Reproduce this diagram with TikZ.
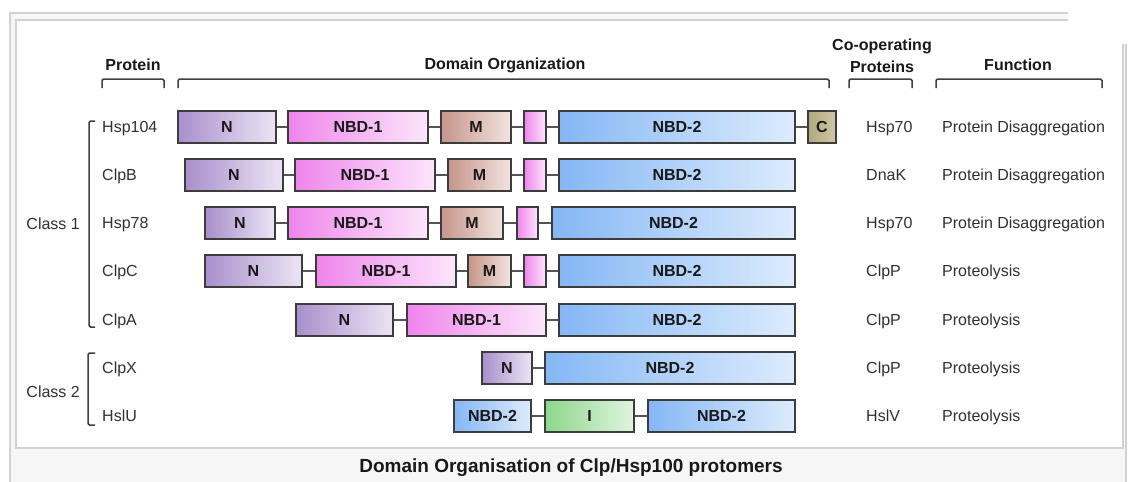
\documentclass[tikz,border=0pt]{standalone}
\usepackage{fontspec}
\setmainfont{Liberation Sans}

% domain colours (dark end, light end)
\definecolor{nA}{HTML}{A88FCB}
\definecolor{nB}{HTML}{ECE5F5}
\definecolor{aA}{HTML}{EF85EC}
\definecolor{aB}{HTML}{FCE6FB}
\definecolor{mA}{HTML}{C6958A}
\definecolor{mB}{HTML}{F2E4E0}
\definecolor{bA}{HTML}{85B7F5}
\definecolor{bB}{HTML}{DDECFD}
\definecolor{iA}{HTML}{8DD78D}
\definecolor{iB}{HTML}{E0F4E0}
\definecolor{cA}{HTML}{B3A87E}
\definecolor{cB}{HTML}{CFC7A6}
\definecolor{boxline}{HTML}{3C3C3C}
\definecolor{linkgray}{HTML}{555555}
\definecolor{textgray}{HTML}{303030}
\definecolor{framegray}{HTML}{D2D2D2}
\definecolor{panelback}{HTML}{F6F6F6}

\tikzset{
  dbox/.style={draw=boxline, line width=1.4pt, minimum height=32pt, inner sep=0pt,
    font=\fontsize{16}{18}\selectfont\bfseries, text=black!90, text height=11.5pt, text depth=0pt},
  ndom/.style={left color=nA, right color=nB},
  adom/.style={left color=aA, right color=aB},
  mdom/.style={left color=mA, right color=mB},
  bdom/.style={left color=bA, right color=bB},
  idom/.style={left color=iA, right color=iB},
  cdom/.style={left color=cA, right color=cB},
  link/.style={draw=linkgray, line width=1.6pt},
  txt/.style={font=\fontsize{16}{18}\selectfont, text=textgray, inner sep=0pt,
    text height=11.5pt, text depth=0pt, anchor=west},
  head/.style={font=\fontsize{16}{22}\selectfont\bfseries, text=black!90, inner sep=0pt},
  brk/.style={draw=black!75, line width=1.5pt, rounded corners=1.5pt},
}

% domain box: name, style, left x, right x, row y, label
\newcommand{\dom}[6]{\node[dbox,#2,minimum width={#4-#3}] (#1) at ({(#3+#4)/2},#5) {#6};}

\begin{document}
\begin{tikzpicture}[x=1pt, y=-1pt]
\useasboundingbox (0,0) rectangle (1133,482);

% frame and white panel
\draw[framegray, line width=1.5pt, fill=panelback] (10,13) rectangle (1126,500);
\draw[framegray, line width=1.5pt, fill=white] (16,20) rectangle (1123,448);
\fill[white] (1068,0) rectangle (1133,44);

% column headers
\node[head] (prothead) at (133,65) {Protein};
\node[head] (domhead) at (505,65) {Domain Organization};
\node[head, align=center] (coophead) at (882,56) {Co-operating\\Proteins};
\node[head] (funchead) at (1018,65) {Function};

\draw[brk] (102,88) -- (102,79) -- (164,79) -- (164,88);
\draw[brk] (178,88) -- (178,79) -- (829,79) -- (829,88);
\draw[brk] (849,88) -- (849,79) -- (912,79) -- (912,88);
\draw[brk] (936,88) -- (936,79) -- (1102,79) -- (1102,88);

% class brackets
\draw[brk] (95,121) -- (89,121) -- (89,327) -- (95,327);
\draw[brk] (95,353) -- (88,353) -- (88,425) -- (95,425);
\node[txt, anchor=east] (class1) at (80,224) {Class 1};
\node[txt, anchor=east] (class2) at (80,392) {Class 2};

% protein names
\node[txt] (p1) at (102,127) {Hsp104};
\node[txt] (p2) at (102,175) {ClpB};
\node[txt] (p3) at (102,223) {Hsp78};
\node[txt] (p4) at (102,271) {ClpC};
\node[txt] (p5) at (102,320) {ClpA};
\node[txt] (p6) at (102,368) {ClpX};
\node[txt] (p7) at (102,416) {HslU};

% Hsp104
\dom{n1}{ndom}{178}{276}{127}{N}
\dom{a1}{adom}{288}{428}{127}{NBD-1}
\dom{m1}{mdom}{441}{511}{127}{M}
\dom{s1}{adom}{524}{546}{127}{}
\dom{b1}{bdom}{559}{795}{127}{NBD-2}
\dom{c1}{cdom}{808}{836}{127}{C}
\draw[link] (n1) -- (a1); \draw[link] (a1) -- (m1); \draw[link] (m1) -- (s1);
\draw[link] (s1) -- (b1); \draw[link] (b1) -- (c1);

% ClpB
\dom{n2}{ndom}{185}{283}{175}{N}
\dom{a2}{adom}{295}{435}{175}{NBD-1}
\dom{m2}{mdom}{448}{511}{175}{M}
\dom{s2}{adom}{524}{546}{175}{}
\dom{b2}{bdom}{559}{795}{175}{NBD-2}
\draw[link] (n2) -- (a2); \draw[link] (a2) -- (m2); \draw[link] (m2) -- (s2);
\draw[link] (s2) -- (b2);

% Hsp78
\dom{n3}{ndom}{205}{275}{223}{N}
\dom{a3}{adom}{288}{428}{223}{NBD-1}
\dom{m3}{mdom}{441}{503}{223}{M}
\dom{s3}{adom}{517}{538}{223}{}
\dom{b3}{bdom}{552}{795}{223}{NBD-2}
\draw[link] (n3) -- (a3); \draw[link] (a3) -- (m3); \draw[link] (m3) -- (s3);
\draw[link] (s3) -- (b3);

% ClpC
\dom{n4}{ndom}{205}{302}{271}{N}
\dom{a4}{adom}{316}{456}{271}{NBD-1}
\dom{m4}{mdom}{468}{511}{271}{M}
\dom{s4}{adom}{524}{546}{271}{}
\dom{b4}{bdom}{559}{795}{271}{NBD-2}
\draw[link] (n4) -- (a4); \draw[link] (a4) -- (m4); \draw[link] (m4) -- (s4);
\draw[link] (s4) -- (b4);

% ClpA
\dom{n5}{ndom}{296}{393}{320}{N}
\dom{a5}{adom}{407}{546}{320}{NBD-1}
\dom{b5}{bdom}{559}{795}{320}{NBD-2}
\draw[link] (n5) -- (a5); \draw[link] (a5) -- (b5);

% ClpX
\dom{n6}{ndom}{482}{532}{368}{N}
\dom{b6}{bdom}{545}{795}{368}{NBD-2}
\draw[link] (n6) -- (b6);

% HslU
\dom{d7}{bdom}{454}{531}{416}{NBD-2}
\dom{i7}{idom}{545}{634}{416}{I}
\dom{b7}{bdom}{648}{795}{416}{NBD-2}
\draw[link] (d7) -- (i7); \draw[link] (i7) -- (b7);

% partners
\node[txt] (q1) at (866,127) {Hsp70};
\node[txt] (q2) at (866,175) {DnaK};
\node[txt] (q3) at (866,223) {Hsp70};
\node[txt] (q4) at (866,271) {ClpP};
\node[txt] (q5) at (866,320) {ClpP};
\node[txt] (q6) at (866,368) {ClpP};
\node[txt] (q7) at (866,416) {HslV};

% functions
\node[txt] (f1) at (942,127) {Protein Disaggregation};
\node[txt] (f2) at (942,175) {Protein Disaggregation};
\node[txt] (f3) at (942,223) {Protein Disaggregation};
\node[txt] (f4) at (942,271) {Proteolysis};
\node[txt] (f5) at (942,320) {Proteolysis};
\node[txt] (f6) at (942,368) {Proteolysis};
\node[txt] (f7) at (942,416) {Proteolysis};

% caption
\node[font=\fontsize{19}{21}\selectfont\bfseries, text=black!90] (caption) at (571,468) {Domain Organisation of Clp/Hsp100 protomers};

\end{tikzpicture}
\end{document}
